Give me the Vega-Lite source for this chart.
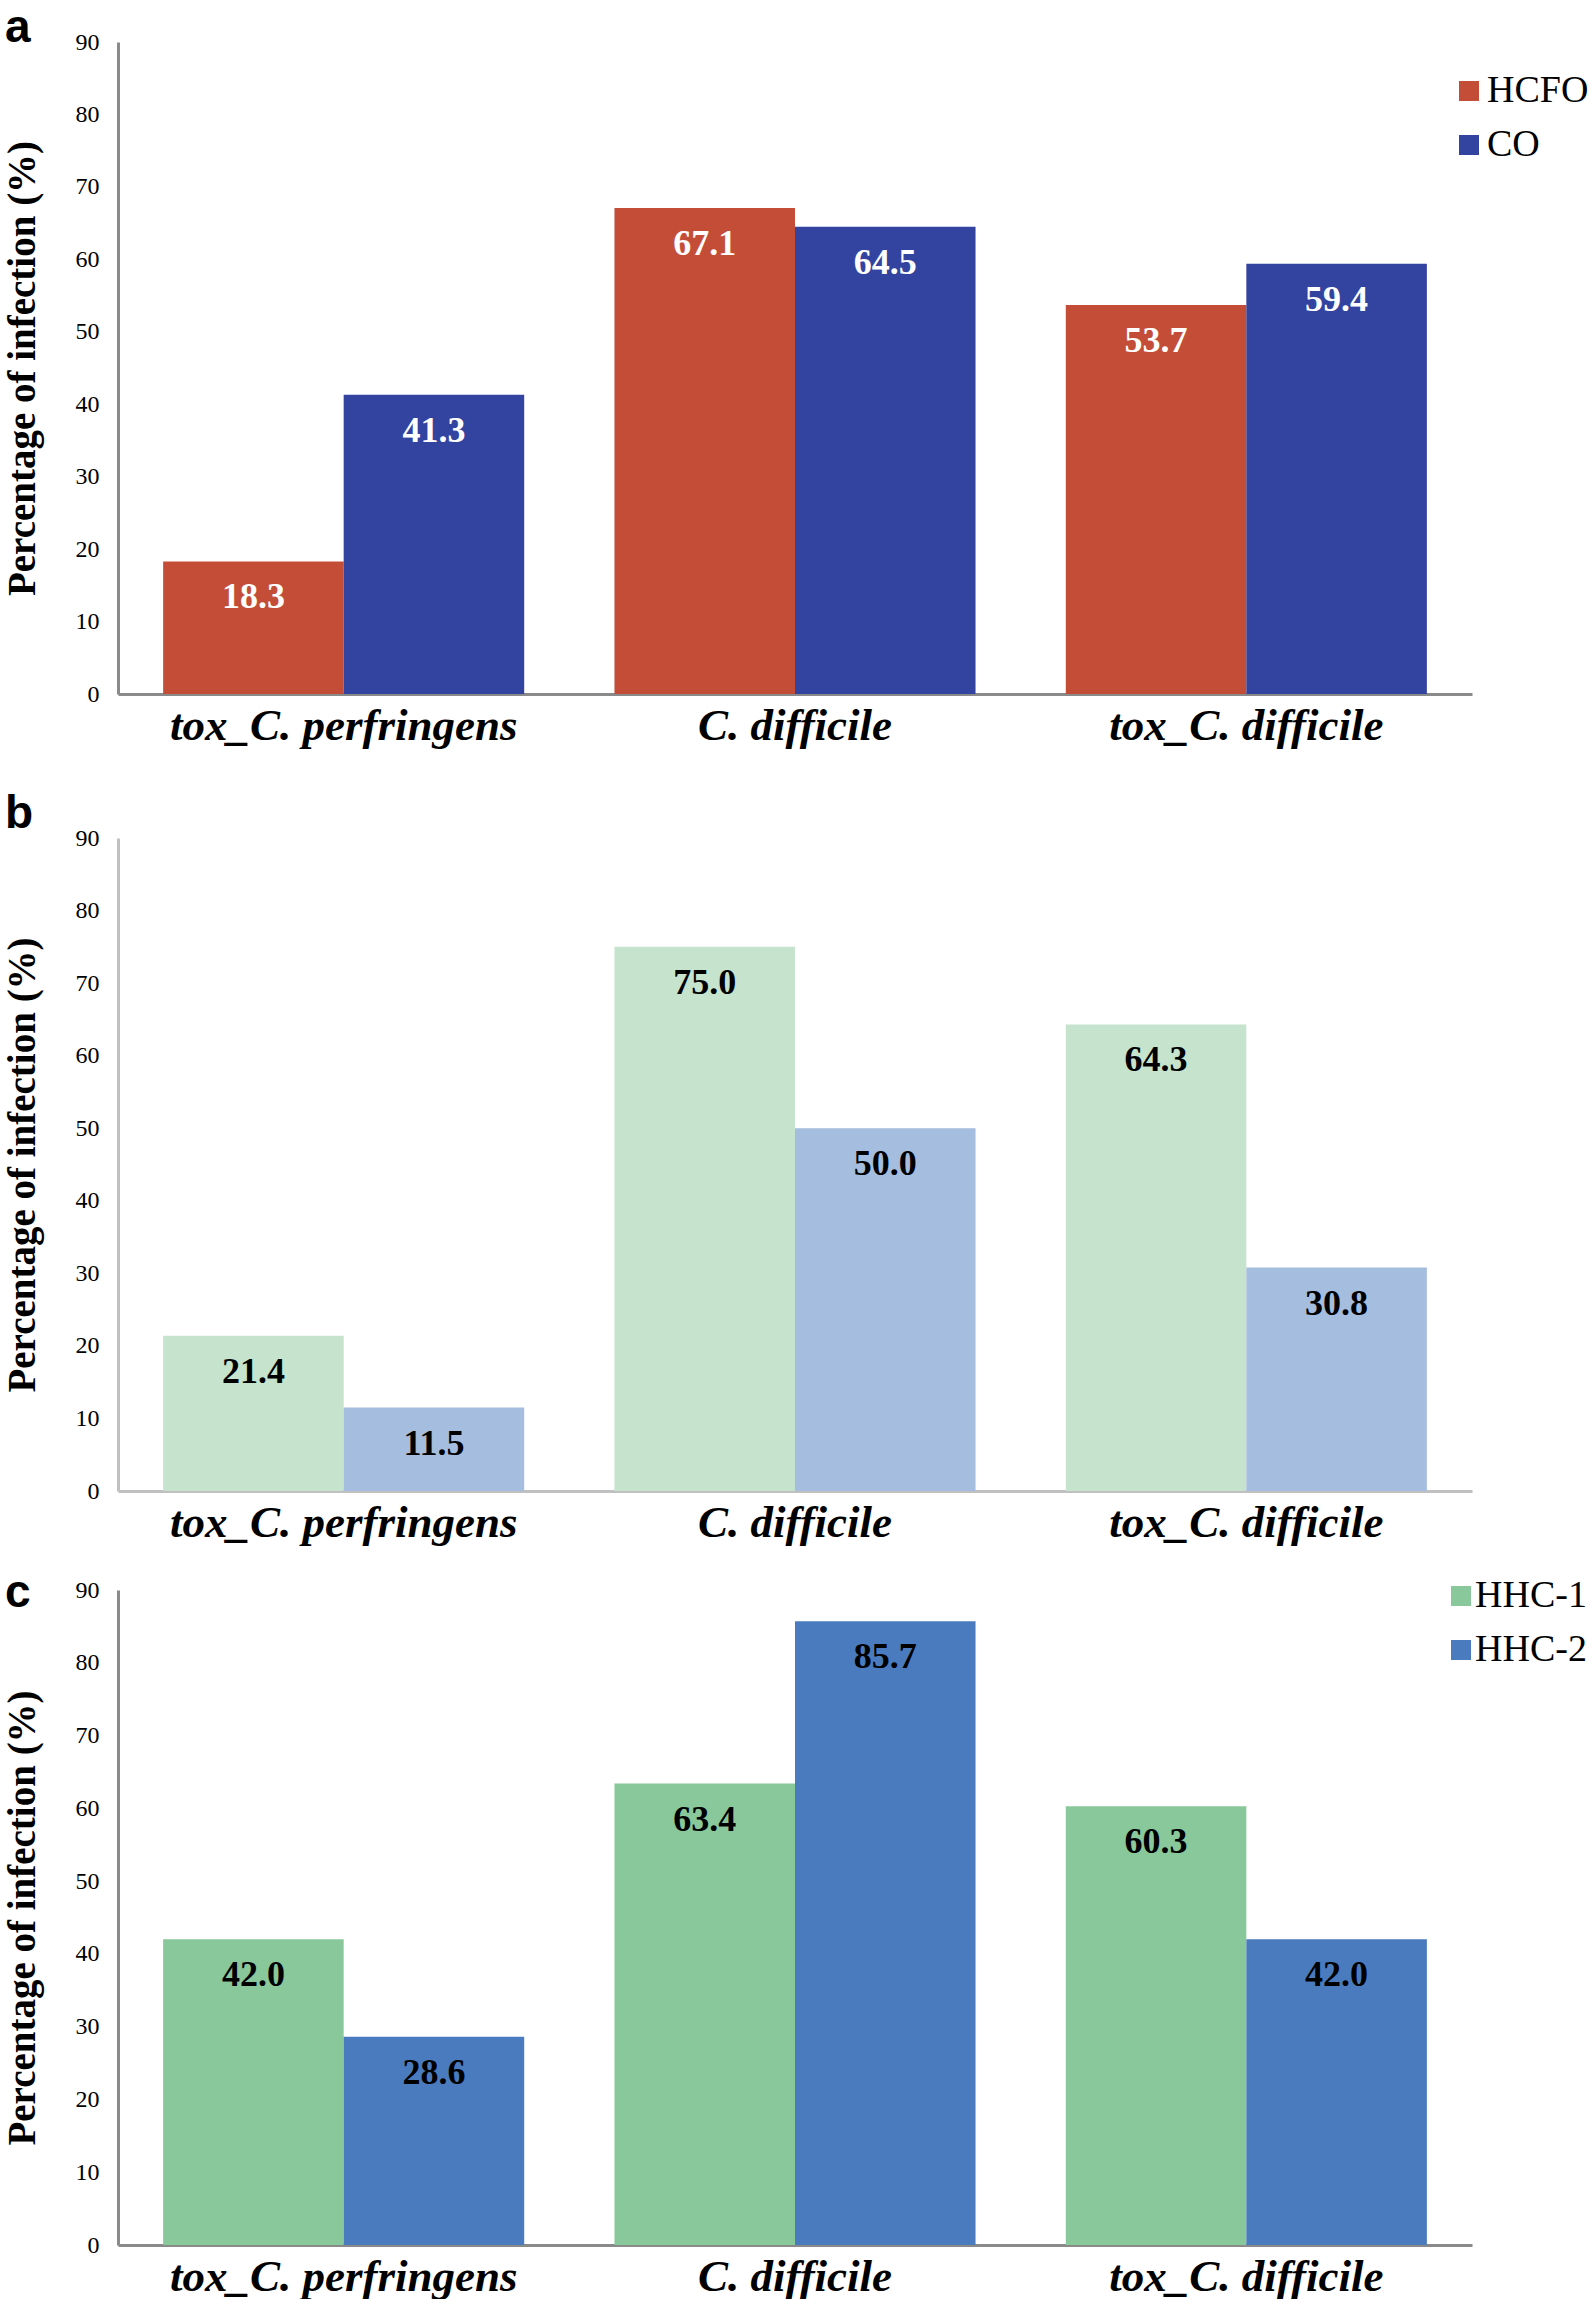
{
  "$schema": "https://vega.github.io/schema/vega-lite/v6.json",
  "background": "white",
  "padding": {"left": 3, "top": 5, "right": 0, "bottom": 0},
  "config": {
    "view": {"stroke": null},
    "font": "Liberation Serif",
    "axisX": {"title": null, "labelAngle": 0, "labelFont": "Liberation Serif", "labelFontSize": 45, "labelFontWeight": "bold", "labelFontStyle": "italic", "labelColor": "black", "labelLimit": 0, "ticks": false, "labelPadding": 9, "domainWidth": 3, "grid": false},
    "axisY": {"labelFont": "Liberation Serif", "labelFontSize": 24, "labelColor": "black", "ticks": false, "labelPadding": 19, "domainWidth": 3, "grid": false, "titleFont": "Liberation Serif", "titleFontSize": 39, "titleFontWeight": "bold", "titleColor": "black", "titlePadding": 33},
    "legend": {"labelFont": "Liberation Serif", "labelFontSize": 38, "labelColor": "black", "symbolType": "square", "symbolSize": 400, "symbolStrokeWidth": 0, "title": null, "padding": 0, "rowPadding": 16},
    "title": {"font": "Liberation Sans", "fontWeight": "bold", "fontSize": 46, "anchor": "start", "frame": "group", "baseline": "alphabetic", "offset": 0, "color": "black"}
  },
  "spacing": 43,
  "vconcat": [
    {
      "width": 1354, "height": 652,
      "title": {"text": "a", "dx": -113, "dy": 26},
      "data": {"values": [
        {"category": "tox_C. perfringens", "group": "HCFO", "value": 18.3},
        {"category": "tox_C. perfringens", "group": "CO", "value": 41.3},
        {"category": "C. difficile", "group": "HCFO", "value": 67.1},
        {"category": "C. difficile", "group": "CO", "value": 64.5},
        {"category": "tox_C. difficile", "group": "HCFO", "value": 53.7},
        {"category": "tox_C. difficile", "group": "CO", "value": 59.4}
      ]},
      "encoding": {
        "x": {"field": "category", "type": "nominal", "sort": ["tox_C. perfringens", "C. difficile", "tox_C. difficile"], "scale": {"paddingInner": 0.2, "paddingOuter": 0.1}, "axis": {"domainColor": "#8a8a8a"}},
        "xOffset": {"field": "group", "type": "nominal", "sort": ["HCFO", "CO"]},
        "y": {"field": "value", "type": "quantitative", "scale": {"domain": [0, 90]}, "axis": {"title": "Percentage of infection (%)", "domainColor": "#8a8a8a", "values": [0,10,20,30,40,50,60,70,80,90]}}
      },
      "layer": [
        {"mark": {"type": "bar"}, "encoding": {"color": {"field": "group", "type": "nominal", "sort": ["HCFO", "CO"], "scale": {"domain": ["HCFO", "CO"], "range": ["#C44D37", "#3343A0"]}, "legend": {"orient": "none", "legendX": 1332, "legendY": 30, "labelOffset": -1}}}},
        {"mark": {"type": "text", "baseline": "middle", "dy": 36, "font": "Liberation Serif", "fontWeight": "bold", "fontSize": 36, "color": "white"}, "encoding": {"text": {"field": "value", "type": "quantitative", "format": ".1f"}}}
      ]
    },
    {
      "spacing": 25,
      "vconcat": [
        {
          "width": 1354, "height": 653,
          "title": {"text": "b", "dx": -113, "dy": 16},
          "data": {"values": [
            {"category": "tox_C. perfringens", "series": "HHC-1", "value": 21.4},
            {"category": "tox_C. perfringens", "series": "HHC-2", "value": 11.5},
            {"category": "C. difficile", "series": "HHC-1", "value": 75.0},
            {"category": "C. difficile", "series": "HHC-2", "value": 50.0},
            {"category": "tox_C. difficile", "series": "HHC-1", "value": 64.3},
            {"category": "tox_C. difficile", "series": "HHC-2", "value": 30.8}
          ]},
          "encoding": {
            "x": {"field": "category", "type": "nominal", "sort": ["tox_C. perfringens", "C. difficile", "tox_C. difficile"], "scale": {"paddingInner": 0.2, "paddingOuter": 0.1}, "axis": {"domainColor": "#c0c0c0"}},
            "xOffset": {"field": "series", "type": "nominal", "sort": ["HHC-1", "HHC-2"]},
            "y": {"field": "value", "type": "quantitative", "scale": {"domain": [0, 90]}, "axis": {"title": "Percentage of infection (%)", "domainColor": "#c0c0c0", "values": [0,10,20,30,40,50,60,70,80,90]}}
          },
          "layer": [
            {"mark": {"type": "bar"}, "encoding": {"fill": {"field": "series", "type": "nominal", "sort": ["HHC-1", "HHC-2"], "scale": {"domain": ["HHC-1", "HHC-2"], "range": ["#C5E3CD", "#A5BDDE"]}, "legend": null}}},
            {"mark": {"type": "text", "baseline": "middle", "dy": 36, "font": "Liberation Serif", "fontWeight": "bold", "fontSize": 36, "color": "black"}, "encoding": {"text": {"field": "value", "type": "quantitative", "format": ".1f"}}}
          ]
        },
        {
          "width": 1354, "height": 655,
          "title": {"text": "c", "dx": -113, "dy": 44},
          "data": {"values": [
            {"category": "tox_C. perfringens", "hhc": "HHC-1", "value": 42.0},
            {"category": "tox_C. perfringens", "hhc": "HHC-2", "value": 28.6},
            {"category": "C. difficile", "hhc": "HHC-1", "value": 63.4},
            {"category": "C. difficile", "hhc": "HHC-2", "value": 85.7},
            {"category": "tox_C. difficile", "hhc": "HHC-1", "value": 60.3},
            {"category": "tox_C. difficile", "hhc": "HHC-2", "value": 42.0}
          ]},
          "encoding": {
            "x": {"field": "category", "type": "nominal", "sort": ["tox_C. perfringens", "C. difficile", "tox_C. difficile"], "scale": {"paddingInner": 0.2, "paddingOuter": 0.1}, "axis": {"domainColor": "#8a8a8a"}},
            "xOffset": {"field": "hhc", "type": "nominal", "sort": ["HHC-1", "HHC-2"]},
            "y": {"field": "value", "type": "quantitative", "scale": {"domain": [0, 90]}, "axis": {"title": "Percentage of infection (%)", "domainColor": "#8a8a8a", "values": [0,10,20,30,40,50,60,70,80,90]}}
          },
          "layer": [
            {"mark": {"type": "bar"}, "encoding": {"color": {"field": "hhc", "type": "nominal", "sort": ["HHC-1", "HHC-2"], "scale": {"domain": ["HHC-1", "HHC-2"], "range": ["#89C89A", "#4A7BBF"]}, "legend": {"orient": "none", "legendX": 1324, "legendY": -13, "labelOffset": -5}}}},
            {"mark": {"type": "text", "baseline": "middle", "dy": 36, "font": "Liberation Serif", "fontWeight": "bold", "fontSize": 36, "color": "black"}, "encoding": {"text": {"field": "value", "type": "quantitative", "format": ".1f"}}}
          ]
        }
      ],
      "resolve": {"scale": {"x": "independent", "y": "independent", "fill": "independent", "color": "independent", "xOffset": "independent"}, "legend": {"fill": "independent", "color": "independent"}, "axis": {"x": "independent", "y": "independent"}}
    }
  ],
  "resolve": {"scale": {"x": "independent", "y": "independent", "color": "independent", "xOffset": "independent"}, "legend": {"color": "independent"}, "axis": {"x": "independent", "y": "independent"}}
}
